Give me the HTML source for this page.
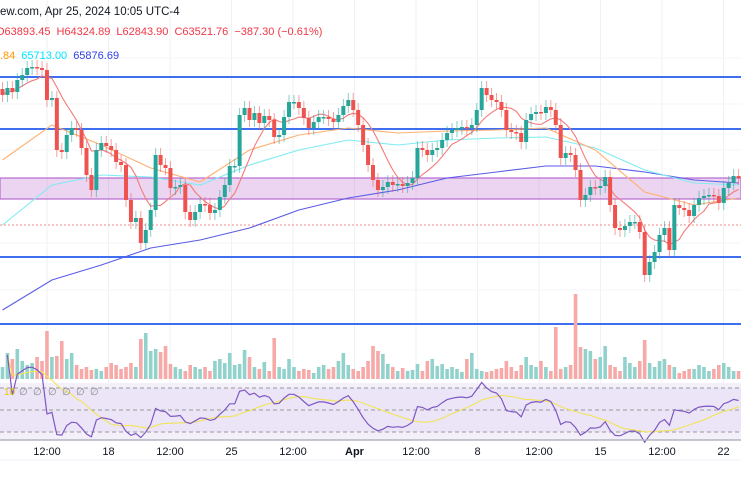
<!DOCTYPE html>
<html><head><meta charset="utf-8">
<style>
html,body{margin:0;padding:0;background:#fff;}
body{width:741px;height:486px;overflow:hidden;font-family:"Liberation Sans",sans-serif;}
svg text{font-family:"Liberation Sans",sans-serif;}
</style></head>
<body>
<svg id="chart" width="741" height="486" viewBox="0 0 741 486" xmlns="http://www.w3.org/2000/svg">
  <g id="grid"></g>
  <rect x="0" y="383" width="741" height="57" fill="#f3f0fa"/>
  <rect x="0" y="388" width="741" height="44" fill="#ebe5f7"/>
  <g id="levels"></g>
  <g id="volume"></g>
  <g id="mas"></g>
  <g id="candles"></g>
  <g id="rsi"></g>
  <g id="xaxis"></g>
  <g>
    <text x="0" y="15" font-size="11.5" fill="#131722">ew.com, Apr 25, 2024 10:05 UTC-4</text>
    <text x="-4" y="35" font-size="11" fill="#f23645">O63893.45 <tspan dx="3">H64324.89</tspan> <tspan dx="3">L62843.90</tspan> <tspan dx="3">C63521.76</tspan> <tspan dx="3">−387.30 (−0.61%)</tspan></text>
    <text x="0" y="59" font-size="11"><tspan fill="#ff9800">.84</tspan><tspan dx="6" fill="#00e5ff">65713.00</tspan><tspan dx="6" fill="#2f3ee8">65876.69</tspan></text>
  </g>
  <g font-size="10" fill="#888">
    <text x="4" y="395" fill="#e6c800">10</text>
    <text x="19" y="395">∅</text>
    <text x="33" y="395">∅</text>
    <text x="48" y="395">∅</text>
    <text x="62" y="395">∅</text>
    <text x="76" y="395">∅</text>
    <text x="90" y="395">∅</text>
  </g>
</svg>
<script>
const closes = [75250,75600,75400,76000,76250,76600,76650,76600,76500,75000,
75100,72500,72400,73250,73600,73500,72600,71250,70500,72500,
72850,72700,72500,71900,71750,70000,68900,69100,67850,68500,
69500,72250,71750,71600,70600,70650,70750,69400,69000,69400,
69800,69750,69350,69500,70150,70750,71700,71700,74250,74600,
74000,74350,73850,74200,74000,73150,73250,74150,74900,74900,
74600,74100,73600,73900,74150,74150,74050,73900,74250,74700,
75000,74500,73750,72750,71750,71000,70500,70650,70900,70750,
70800,70700,70850,71100,72600,72500,72250,72500,72600,73000,
73350,73500,73600,73650,73600,73750,74500,75600,75250,75000,
74900,74500,73500,73400,73350,72900,74000,74300,74400,74350,
74650,74500,73750,72100,72350,72250,71500,70000,70250,70650,
70600,70700,71150,69750,68600,68500,68700,68900,68900,68400,
66250,66900,67400,68250,68600,67500,69750,69600,69500,69200,
69750,70100,70200,70250,70200,69850,70600,70850,71200,71100];
const volumes = [12,26,20,30,18,14,16,22,18,48,
22,23,38,20,26,14,10,12,9,10,
8,12,16,14,10,12,16,12,40,46,
28,30,27,33,15,12,10,8,14,12,
10,12,8,18,20,16,26,14,15,29,
22,12,10,17,8,41,12,10,20,12,
8,10,9,6,12,14,10,12,18,26,
14,10,8,12,18,33,28,25,15,12,
8,11,8,9,15,8,18,20,13,15,
10,12,10,7,20,26,10,8,7,8,
10,11,18,12,8,14,22,14,12,18,
12,8,52,10,12,14,85,32,30,28,
20,22,33,14,12,8,22,16,12,18,
39,16,12,18,20,14,12,6,8,10,
10,14,12,8,10,14,16,12,8,8];
const maSampleIdx = [0,10,20,30,40,50,60,70,80,90,100,110,120,130,140,149];
const maOrange = [72000,73750,72750,71600,70900,72500,73250,73600,73350,73450,73500,73600,72500,70400,69750,70100];
const maCyan = [68750,70750,71250,71150,70750,71750,72500,73000,72750,73000,73100,73150,72600,71500,70850,70750];
const maBlue = [64500,66000,66750,67600,68000,68600,69500,70100,70500,71100,71400,71700,71700,71400,71000,70850];
const levels = [76150,73550,67150,63800];
const band = [71100,70050];
const lastPriceLine = 68750;
const xLabels = ["12:00","18","12:00","25","12:00","Apr","12:00","8","12:00","15","12:00","22"];

const NS = "http://www.w3.org/2000/svg";
const n = closes.length, step = 741 / n;
const xOf = i => 2.5 + i * step;
const yOf = p => (80000 - p) / 50;
const volY = v => 379 - v;
const rsiY = r => 388 + (70 - r) * 1.1;
function mk(parent, tag, attrs) {
  const el = document.createElementNS(NS, tag);
  for (const k in attrs) el.setAttribute(k, attrs[k]);
  document.getElementById(parent).appendChild(el);
  return el;
}

xLabels.forEach((l, k) => {
  const gx = 47 + k * 61.5;
  const g = mk('grid', 'line', {x1: gx, x2: gx, y1: 0, y2: 440, stroke: '#eef1f6', 'stroke-width': 1});
  
  
});
[58, 104, 150, 243, 290].forEach(gy => {
  const g = mk('grid', 'line', {x1: 0, x2: 741, y1: gy, y2: gy, stroke: '#f2f4f8', 'stroke-width': 1});
  
  
});

const b = mk('levels', 'rect', {x: 0, y: yOf(band[0]), width: 741, height: yOf(band[1]) - yOf(band[0]), fill: 'rgba(186,104,200,0.28)', stroke: '#b86ad0', 'stroke-width': 1.2});


levels.forEach(p => {
  const l = mk('levels', 'line', {x1: 0, x2: 741, y1: yOf(p), y2: yOf(p), stroke: '#3e6ff0', 'stroke-width': 2});
  
  
});
const lp = mk('levels', 'line', {x1: 0, x2: 741, y1: yOf(lastPriceLine), y2: yOf(lastPriceLine), stroke: '#f28b8b', 'stroke-width': 1, 'stroke-dasharray': '2,2'});



volumes.forEach((v, i) => {
  const o = i ? closes[i - 1] : closes[i];
  const up = closes[i] >= o;
  const r = mk('volume', 'rect', {x: xOf(i) - 1.8, y: volY(v), width: 3.6, height: v, fill: up ? '#92d2cc' : '#f7a9a7'});
  
  
});

function sampledPath(vals, color, name) {
  const d = vals.map((p, k) => (k ? 'L' : 'M') + xOf(maSampleIdx[k]).toFixed(1) + ',' + yOf(p).toFixed(1)).join(' ');
  const el = mk('mas', 'path', {d, fill: 'none', stroke: color, 'stroke-width': 1.1});
  
  
}
sampledPath(maBlue, '#5b5be8', 'ma-long-blue');
sampledPath(maCyan, '#7fecf2', 'ma-cyan');
sampledPath(maOrange, '#ffb070', 'ma-orange');
(function () {
  const per = 8; let d = '';
  for (let i = 0; i < n; i++) {
    const s = closes.slice(Math.max(0, i - per + 1), i + 1);
    const m = s.reduce((a, c) => a + c, 0) / s.length;
    d += (i ? 'L' : 'M') + xOf(i).toFixed(1) + ',' + yOf(m).toFixed(1) + ' ';
  }
  const el = mk('mas', 'path', {d, fill: 'none', stroke: '#f47a7a', 'stroke-width': 1.1});
  
  
})();

closes.forEach((c, i) => {
  const o = i ? closes[i - 1] : c + 300;
  const up = c >= o;
  const col = up ? '#26a69a' : '#ef5350';
  const top = yOf(Math.max(o, c)), bot = yOf(Math.min(o, c));
  const w = mk('candles', 'line', {x1: xOf(i), x2: xOf(i), y1: top - 7, y2: bot + 7, stroke: col, 'stroke-width': 1, opacity: 0.55});
  
  
  const r = mk('candles', 'rect', {x: xOf(i) - 2, y: top, width: 4, height: Math.max(1.5, bot - top), fill: col});
  
  
});

[388, 410, 432].forEach(yy => {
  const l = mk('rsi', 'line', {x1: 0, x2: 741, y1: yy, y2: yy, stroke: '#999', 'stroke-width': 1, 'stroke-dasharray': '4,3'});
  
  
});
(function () {
  const per = 14, rsi = [];
  let ag = 0, al = 0;
  for (let i = 1; i < n; i++) {
    const ch = closes[i] - closes[i - 1];
    const g = Math.max(ch, 0), l = Math.max(-ch, 0);
    if (i <= per) { ag += g / per; al += l / per; }
    else { ag = (ag * (per - 1) + g) / per; al = (al * (per - 1) + l) / per; }
    rsi.push({i, r: al === 0 ? 100 : 100 - 100 / (1 + ag / al)});
  }
  const d = rsi.map((p, k) => (k ? 'L' : 'M') + xOf(p.i).toFixed(1) + ',' + rsiY(p.r).toFixed(1)).join(' ');
  let d2 = '';
  rsi.forEach((p, k) => {
    const s = rsi.slice(Math.max(0, k - 13), k + 1);
    const m = s.reduce((a, q) => a + q.r, 0) / s.length;
    d2 += (k ? 'L' : 'M') + xOf(p.i).toFixed(1) + ',' + rsiY(m).toFixed(1) + ' ';
  });
  const s = mk('rsi', 'path', {d: d2, fill: 'none', stroke: '#f2e35a', 'stroke-width': 1.1});
  
  
  const e = mk('rsi', 'path', {d, fill: 'none', stroke: '#7e57c2', 'stroke-width': 1.2});
  
  
})();

const ax = mk('xaxis', 'line', {x1: 0, x2: 741, y1: 440, y2: 440, stroke: '#b2b5be', 'stroke-width': 1.5});


const ax2 = mk('xaxis', 'line', {x1: 0, x2: 741, y1: 460, y2: 460, stroke: '#f0f3fa', 'stroke-width': 1});


xLabels.forEach((l, k) => {
  const t = mk('xaxis', 'text', {x: 47 + k * 61.5, y: 455, 'text-anchor': 'middle', 'font-size': 11, fill: '#131722', 'font-weight': l === 'Apr' ? 'bold' : 'normal'});
  t.textContent = l;
  
  
});
</script>
</body></html>
